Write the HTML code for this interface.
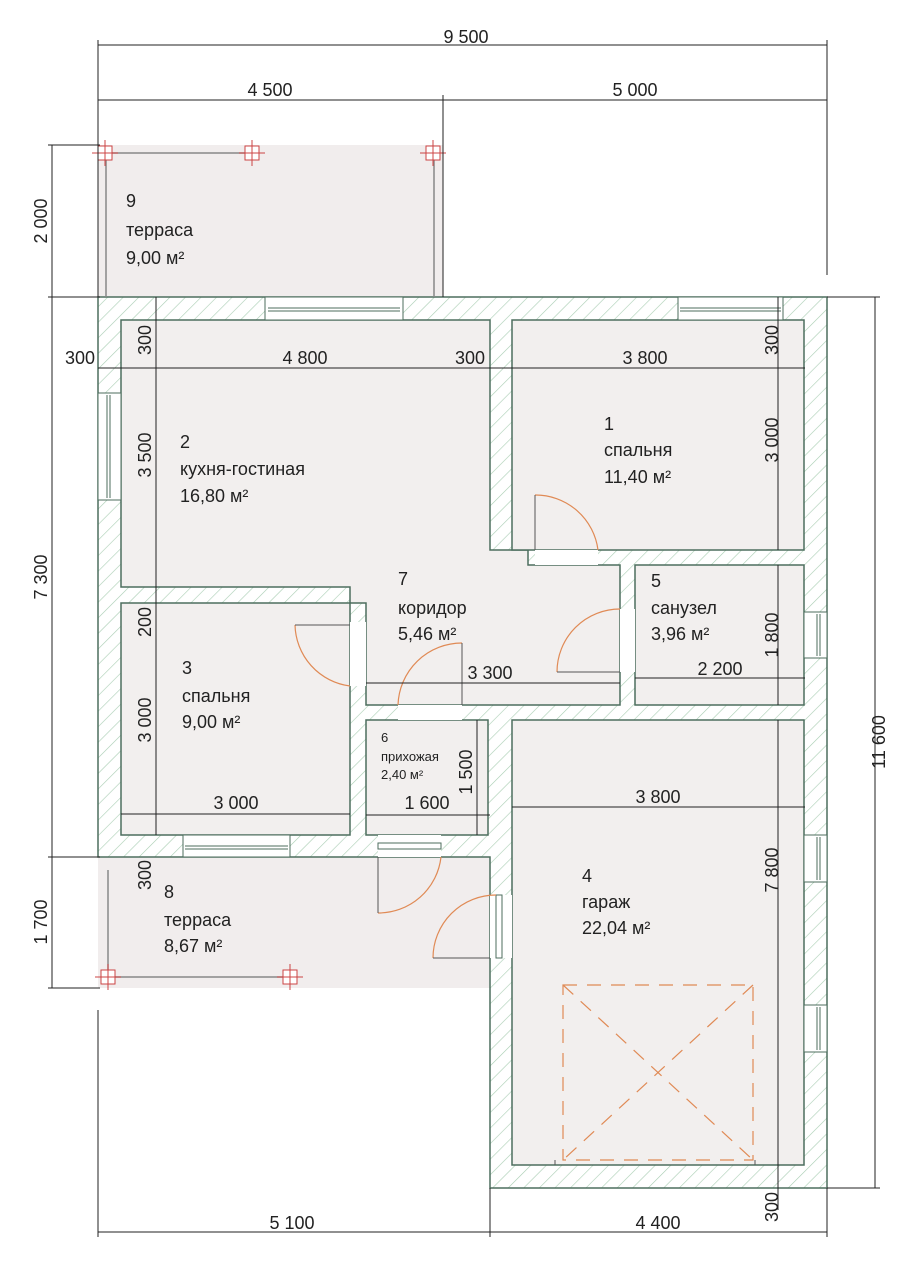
<!DOCTYPE html>
<html><head><meta charset="utf-8"><style>
html,body{margin:0;padding:0;background:#fff;}
svg{display:block;}
text{font-family:"Liberation Sans","DejaVu Sans",sans-serif;fill:#222;}
</style></head><body>
<svg width="912" height="1280" viewBox="0 0 912 1280" xmlns="http://www.w3.org/2000/svg">
<defs>
<pattern id="h" patternUnits="userSpaceOnUse" width="11" height="11" patternTransform="rotate(45)">
<rect width="11" height="11" fill="#fff"/>
<line x1="0" y1="0" x2="0" y2="11" stroke="#a9cdb3" stroke-width="1.2"/>
</pattern>
</defs>
<rect x="98" y="145" width="345" height="152" fill="#f1eded"/>
<rect x="98" y="857" width="392" height="131" fill="#f1eded"/>
<polygon points="98,297 827,297 827,1188 490,1188 490,857 98,857" fill="url(#h)" stroke="#4d6e5e" stroke-width="1.5"/>
<g fill="#f2efee" stroke="#4d6e5e" stroke-width="1.5">
<polygon points="121,320 490,320 490,550 528,550 528,565 620,565 620,705 366,705 366,603 350,603 350,587 121,587"/>
<rect x="512" y="320" width="292" height="230"/>
<rect x="635" y="565" width="169" height="140"/>
<rect x="121" y="603" width="229" height="232"/>
<rect x="366" y="720" width="122" height="115"/>
<rect x="512" y="720" width="292" height="445"/>
</g>
<g fill="#fff" stroke="#4d6e5e" stroke-width="1">
<rect x="535" y="550" width="63" height="15" stroke="none" fill="#fff"/>
<rect x="620" y="609" width="15" height="63" stroke="none"/>
<rect x="350" y="622" width="16" height="64" stroke="none"/>
<rect x="398" y="705" width="64" height="15" stroke="none"/>
<rect x="378" y="835" width="63" height="22" stroke="none"/>
<rect x="490" y="895" width="22" height="63" stroke="none"/>
<rect x="265" y="297" width="138" height="23"/>
<line x1="268" y1="308" x2="400" y2="308"/><line x1="268" y1="311" x2="400" y2="311"/>
<rect x="678" y="297" width="105" height="23"/>
<line x1="680" y1="308" x2="781" y2="308"/><line x1="680" y1="311" x2="781" y2="311"/>
<rect x="98" y="393" width="23" height="107"/>
<line x1="107" y1="395" x2="107" y2="498"/><line x1="110" y1="395" x2="110" y2="498"/>
<rect x="183" y="835" width="107" height="22"/>
<line x1="185" y1="846" x2="288" y2="846"/><line x1="185" y1="849" x2="288" y2="849"/>
<rect x="804" y="612" width="23" height="46"/>
<line x1="817" y1="614" x2="817" y2="656"/><line x1="820" y1="614" x2="820" y2="656"/>
<rect x="804" y="835" width="23" height="47"/>
<line x1="817" y1="837" x2="817" y2="880"/><line x1="820" y1="837" x2="820" y2="880"/>
<rect x="804" y="1005" width="23" height="47"/>
<line x1="817" y1="1007" x2="817" y2="1050"/><line x1="820" y1="1007" x2="820" y2="1050"/>
<rect x="378" y="843" width="63" height="6"/>
<rect x="496" y="895" width="6" height="63"/>
</g>
<g fill="none" stroke="#e08a55" stroke-width="1.2">
<path d="M535,495 A63,63 0 0 1 598,550"/>
<path d="M557,672 A63,63 0 0 1 620,609"/>
<path d="M295,625 A63,63 0 0 0 350,686"/>
<path d="M462,643 A64,64 0 0 0 398,705"/>
<path d="M378,913 A63,63 0 0 0 441,857"/>
<path d="M433,958 A63,63 0 0 1 496,895"/>
<g stroke-dasharray="14,10">
<rect x="563" y="985" width="190" height="175"/>
<line x1="563" y1="985" x2="753" y2="1160"/><line x1="753" y1="985" x2="563" y2="1160"/>
</g>
</g>
<g fill="none" stroke="#555" stroke-width="1">
<line x1="535" y1="495" x2="535" y2="550"/>
<line x1="557" y1="672" x2="620" y2="672"/>
<line x1="295" y1="625" x2="350" y2="625"/>
<line x1="462" y1="643" x2="462" y2="705"/>
<line x1="378" y1="857" x2="378" y2="913"/>
<line x1="433" y1="958" x2="490" y2="958"/>
<line x1="555" y1="1160" x2="555" y2="1165"/><line x1="755" y1="1160" x2="755" y2="1165"/>
</g>
<g stroke="#888" stroke-width="1.5" fill="none">
<line x1="105" y1="153" x2="252" y2="153"/>
<line x1="106" y1="153" x2="106" y2="297"/>
<line x1="434" y1="153" x2="434" y2="297"/>
<line x1="108" y1="870" x2="108" y2="977"/>
<line x1="108" y1="977" x2="290" y2="977"/>
</g>
<g stroke="#c44" stroke-width="1" fill="#fff">
<rect x="98" y="146" width="14" height="14"/><rect x="245" y="146" width="14" height="14"/><rect x="426" y="146" width="14" height="14"/>
<rect x="101" y="970" width="14" height="14"/><rect x="283" y="970" width="14" height="14"/>
<path d="M92,153h26M105,140v26M239,153h26M252,140v26M420,153h26M433,140v26M95,977h26M108,964v26M277,977h26M290,964v26" fill="none"/>
</g>
<g stroke="#222" stroke-width="1" fill="none">
<line x1="98" y1="45" x2="827" y2="45"/>
<line x1="98" y1="40" x2="98" y2="297"/><line x1="827" y1="40" x2="827" y2="275"/>
<line x1="98" y1="100" x2="827" y2="100"/><line x1="443" y1="95" x2="443" y2="297"/>
<line x1="52" y1="145" x2="52" y2="988"/>
<line x1="48" y1="145" x2="100" y2="145"/><line x1="48" y1="297" x2="100" y2="297"/><line x1="48" y1="857" x2="100" y2="857"/><line x1="48" y1="988" x2="100" y2="988"/>
<line x1="875" y1="297" x2="875" y2="1188"/>
<line x1="827" y1="297" x2="880" y2="297"/><line x1="827" y1="1188" x2="880" y2="1188"/>
<line x1="98" y1="1232" x2="827" y2="1232"/>
<line x1="98" y1="1010" x2="98" y2="1237"/><line x1="490" y1="1188" x2="490" y2="1237"/><line x1="827" y1="1188" x2="827" y2="1237"/>
<line x1="98" y1="368" x2="805" y2="368"/>
<line x1="156" y1="297" x2="156" y2="835"/>
<line x1="778" y1="297" x2="778" y2="550"/>
<line x1="778" y1="565" x2="778" y2="705"/>
<line x1="778" y1="720" x2="778" y2="1210"/>
<line x1="366" y1="683" x2="620" y2="683"/>
<line x1="635" y1="678" x2="805" y2="678"/>
<line x1="121" y1="814" x2="350" y2="814"/>
<line x1="366" y1="815" x2="490" y2="815"/>
<line x1="477" y1="720" x2="477" y2="835"/>
<line x1="512" y1="807" x2="805" y2="807"/>
</g>
<g font-size="18" text-anchor="middle">
<text x="466" y="43">9 500</text>
<text x="270" y="96">4 500</text>
<text x="635" y="96">5 000</text>
<text x="292" y="1229">5 100</text>
<text x="658" y="1229">4 400</text>
<text x="80" y="364">300</text>
<text x="305" y="364">4 800</text>
<text x="470" y="364">300</text>
<text x="645" y="364">3 800</text>
<text x="490" y="679">3 300</text>
<text x="720" y="675">2 200</text>
<text x="236" y="809">3 000</text>
<text x="427" y="809">1 600</text>
<text x="658" y="803">3 800</text>
<g transform="rotate(-90)">
<text x="-221" y="47">2 000</text>
<text x="-577" y="47">7 300</text>
<text x="-922" y="47">1 700</text>
<text x="-742" y="885">11 600</text>
<text x="-340" y="151">300</text>
<text x="-455" y="151">3 500</text>
<text x="-622" y="151">200</text>
<text x="-720" y="151">3 000</text>
<text x="-875" y="151">300</text>
<text x="-340" y="778">300</text>
<text x="-440" y="778">3 000</text>
<text x="-635" y="778">1 800</text>
<text x="-870" y="778">7 800</text>
<text x="-1207" y="778">300</text>
<text x="-772" y="472">1 500</text>
</g>
</g>
<g font-size="18">
<text x="126" y="207">9</text><text x="126" y="236">терраса</text><text x="126" y="264">9,00 м²</text>
<text x="180" y="448">2</text><text x="180" y="475">кухня-гостиная</text><text x="180" y="502">16,80 м²</text>
<text x="604" y="430">1</text><text x="604" y="456">спальня</text><text x="604" y="483">11,40 м²</text>
<text x="398" y="585">7</text><text x="398" y="614">коридор</text><text x="398" y="640">5,46 м²</text>
<text x="651" y="587">5</text><text x="651" y="614">санузел</text><text x="651" y="640">3,96 м²</text>
<text x="182" y="674">3</text><text x="182" y="702">спальня</text><text x="182" y="728">9,00 м²</text>
<text x="582" y="882">4</text><text x="582" y="908">гараж</text><text x="582" y="934">22,04 м²</text>
<text x="164" y="898">8</text><text x="164" y="926">терраса</text><text x="164" y="952">8,67 м²</text>
</g>
<g font-size="13">
<text x="381" y="742">6</text><text x="381" y="761">прихожая</text><text x="381" y="779">2,40 м²</text>
</g>
</svg>
</body></html>
